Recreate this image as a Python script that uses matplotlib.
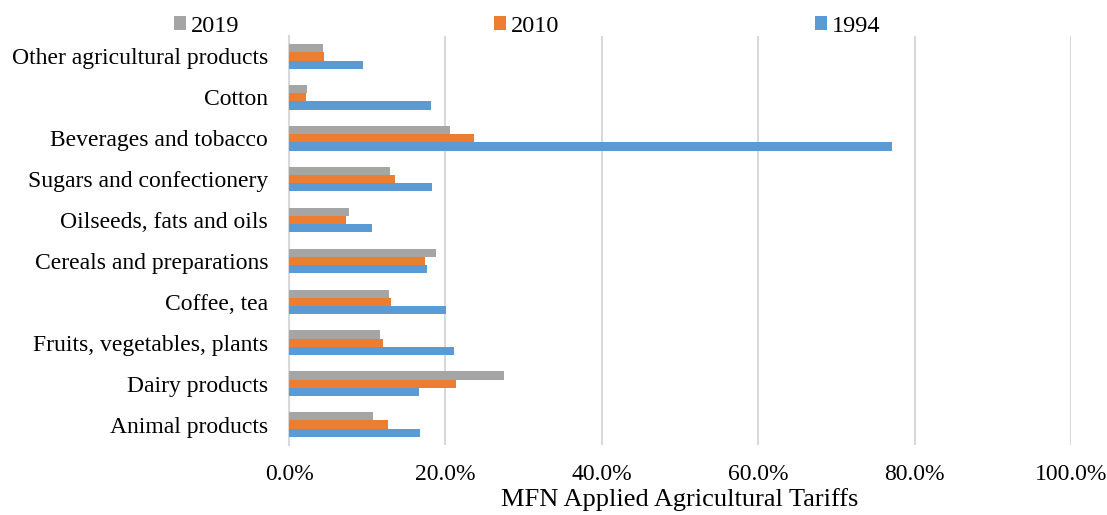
import numpy as np
import matplotlib.pyplot as plt
from matplotlib.ticker import FuncFormatter

plt.rcParams['font.family'] = ['Liberation Serif', 'DejaVu Serif']

categories = ['Animal products', 'Dairy products', 'Fruits, vegetables, plants', 'Coffee, tea',
              'Cereals and preparations', 'Oilseeds, fats and oils', 'Sugars and confectionery',
              'Beverages and tobacco', 'Cotton', 'Other agricultural products']
tariff_2019 = [10.7, 27.5, 11.7, 12.8, 18.8, 7.7, 12.9, 20.6, 2.3, 4.4]
tariff_2010 = [12.6, 21.4, 12.0, 13.1, 17.4, 7.3, 13.6, 23.7, 2.2, 4.5]
tariff_1994 = [16.7, 16.6, 21.1, 20.1, 17.7, 10.6, 18.3, 77.1, 18.2, 9.4]

fig = plt.figure(figsize=(11.07, 5.15), dpi=100)
ax = fig.add_axes([289 / 1107, 70 / 515, (1071 - 289) / 1107, (445 - 36) / 515])

y = np.arange(len(categories))
h = 0.2
ax.barh(y + h, tariff_2019, height=h, color='#A5A5A5', label='2019', zorder=3)
ax.barh(y, tariff_2010, height=h, color='#ED7D31', label='2010', zorder=3)
ax.barh(y - h, tariff_1994, height=h, color='#5B9BD5', label='1994', zorder=3)

ax.set_xlim(0, 100)
ax.set_ylim(-0.5, 9.5)
ax.set_xticks(np.arange(0, 101, 20))
ax.xaxis.set_major_formatter(FuncFormatter(lambda v, p: f'{v:.1f}%'))
ax.set_yticks(y)
ax.set_yticklabels(categories)
ax.tick_params(length=0, labelsize=17)
ax.tick_params(axis='x', pad=14)
ax.tick_params(axis='y', pad=15)
ax.grid(axis='x', color='#D9D9D9', linewidth=1.5, zorder=0)
for s in ['top', 'right', 'bottom']:
    ax.spines[s].set_visible(False)
ax.spines['left'].set_color('#D9D9D9')
ax.spines['left'].set_linewidth(1.5)
ax.set_xlabel('MFN Applied Agricultural Tariffs', fontsize=19, labelpad=2)

fig.legend(loc='center', bbox_to_anchor=(527 / 1107, 1 - 26 / 515), ncol=3, frameon=False,
           fontsize=17.5, handlelength=0.5, handleheight=0.5, handletextpad=0.2, columnspacing=10.5)

fig.savefig('out.png', dpi=100)
